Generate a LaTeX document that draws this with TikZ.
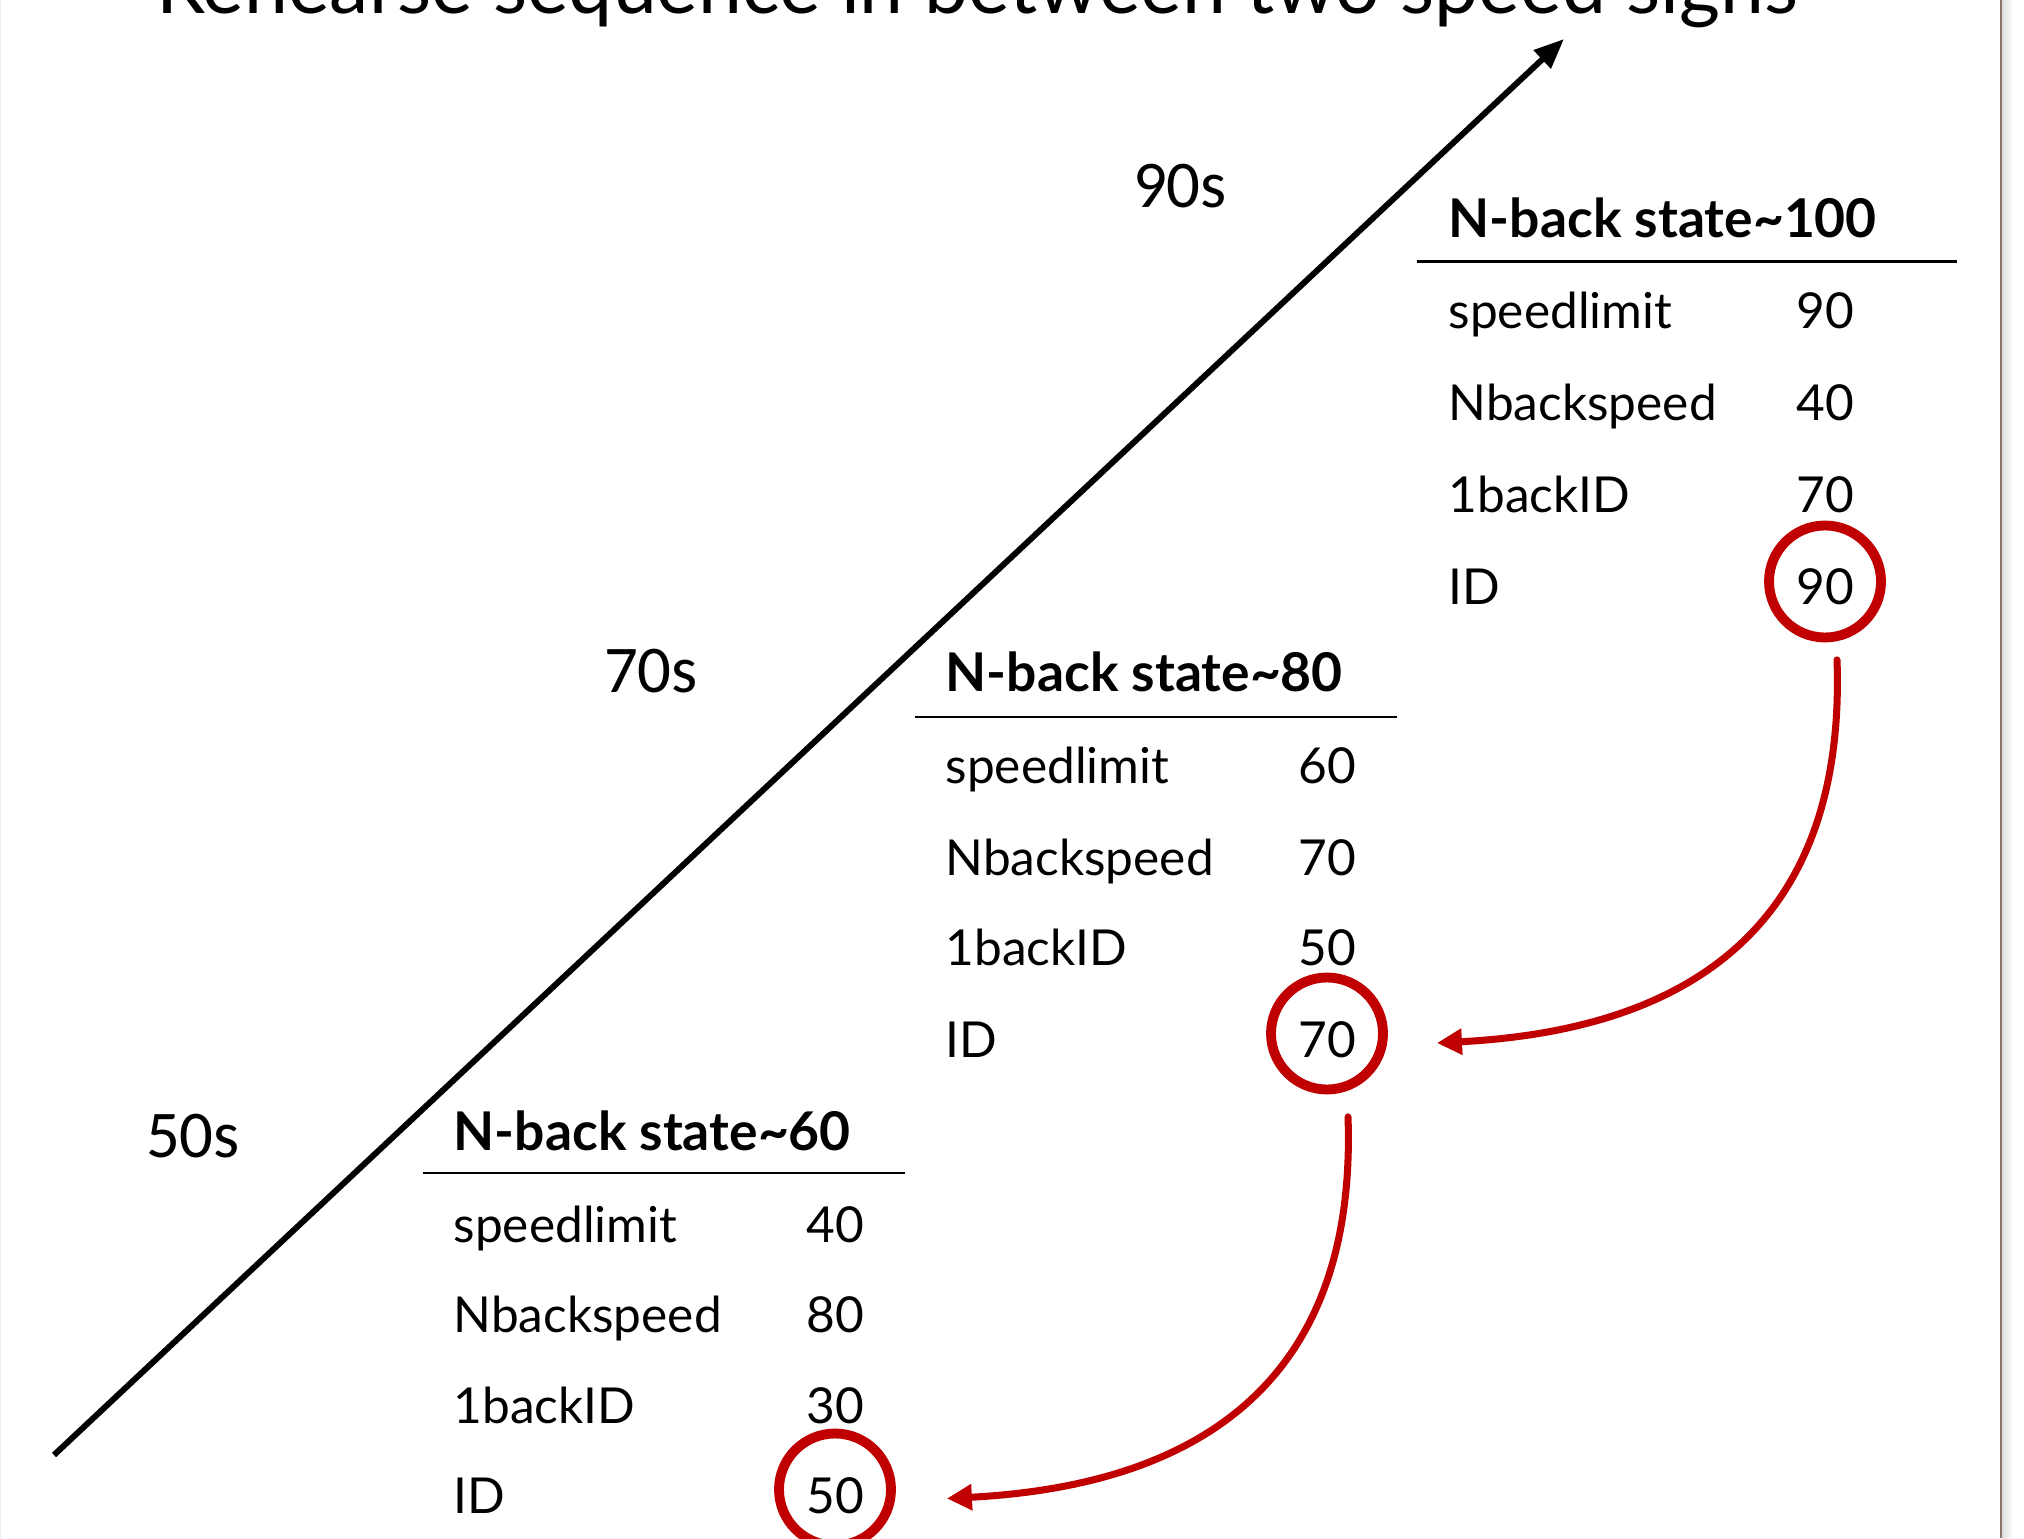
\documentclass[tikz,border=0pt]{standalone}
\usepackage{fontspec}
\setmainfont{Lato}
\newfontfamily\timefont{Carlito}
\usepackage{tikz}
\usetikzlibrary{arrows.meta,positioning,calc}
\usepackage{xcolor}
\definecolor{idred}{RGB}{192,0,0}
\definecolor{slideedge}{RGB}{140,115,105}

\begin{document}
\begin{tikzpicture}[
    hdr/.style={anchor=base west, font=\fontsize{15.2}{18}\selectfont\bfseries, inner sep=0pt},
    lbl/.style={anchor=base west, font=\fontsize{14.1}{17}\selectfont, inner sep=0pt},
    val/.style={anchor=base, font=\fontsize{14.1}{17}\selectfont, inner sep=0pt},
    idc/.style={val, circle, draw=idred, line width=2.8pt, minimum size=1.12cm,
        text height=0.47cm, text depth=0cm},
    tlbl/.style={font=\timefont\fontsize{19}{22}\selectfont, inner sep=0pt},
    rule/.style={line width=0.85pt},
    arr/.style={-{Triangle[length=0.3cm, width=0.24cm]}, line width=1.7pt},
    redarr/.style={-{Triangle[length=0.25cm, width=0.25cm]}, idred, line width=2pt, line cap=round}
]
    \useasboundingbox (0,0) rectangle (20.24,15.38);

    % slide title (cut off at the top)
    \node[font=\fontsize{22.4}{26}\selectfont, anchor=base] (title) at (9.77,15.24) {Rehearse sequence in between two speed signs};

    % slide edge
    \draw[gray!15, line width=0.4pt] (0.005,0) -- (0.005,15.38);
    \shade[left color=gray!25, right color=white] (20.02,0) rectangle (20.13,15.38);
    \draw[slideedge, line width=0.6pt] (20.01,0) -- (20.01,15.38);

    % time axis
    \coordinate (tstart) at (0.54,0.83);
    \coordinate (tend) at (15.64,14.99);
    \draw[arr] (tstart) -- (tend);

    \node[tlbl] (t50) at (1.93,4.02) {50s};
    \node[tlbl] (t70) at (6.51,8.67) {70s};
    \node[tlbl] (t90) at (11.80,13.52) {90s};

    % state ~60
    \node[hdr] (h60) at (4.53,3.88) {N-back state\textasciitilde60};
    \draw[rule] ([shift={(-0.30,-0.23)}]h60.base west) -- ++(4.82,0);
    \node[lbl] (sl60) at (4.53,2.96) {speedlimit};
    \node[lbl] (nb60) at (4.53,2.06) {Nbackspeed};
    \node[lbl] (ob60) at (4.53,1.15) {1backID};
    \node[lbl] (id60) at (4.53,0.25) {ID};
    \node[val] (vsl60) at (8.35,2.96) {40};
    \node[val] (vnb60) at (8.35,2.06) {80};
    \node[val] (vob60) at (8.35,1.15) {30};
    \node[idc] (vid60) at (8.35,0.25) {50};

    % state ~80
    \node[hdr] (h80) at (9.45,8.46) {N-back state\textasciitilde80};
    \draw[rule] ([shift={(-0.30,-0.25)}]h80.base west) -- ++(4.82,0);
    \node[lbl] (sl80) at (9.45,7.55) {speedlimit};
    \node[lbl] (nb80) at (9.45,6.63) {Nbackspeed};
    \node[lbl] (ob80) at (9.45,5.73) {1backID};
    \node[lbl] (id80) at (9.45,4.81) {ID};
    \node[val] (vsl80) at (13.27,7.55) {60};
    \node[val] (vnb80) at (13.27,6.63) {70};
    \node[val] (vob80) at (13.27,5.73) {50};
    \node[idc] (vid80) at (13.27,4.81) {70};

    % state ~100
    \node[hdr] (h100) at (14.48,13.00) {N-back state\textasciitilde100};
    \draw[rule] ([shift={(-0.31,-0.24)}]h100.base west) -- ++(5.40,0);
    \node[lbl] (sl100) at (14.48,12.09) {speedlimit};
    \node[lbl] (nb100) at (14.48,11.17) {Nbackspeed};
    \node[lbl] (ob100) at (14.48,10.25) {1backID};
    \node[lbl] (id100) at (14.48,9.33) {ID};
    \node[val] (vsl100) at (18.25,12.09) {90};
    \node[val] (vnb100) at (18.25,11.17) {40};
    \node[val] (vob100) at (18.25,10.25) {70};
    \node[idc] (vid100) at (18.25,9.33) {90};

    % ID passed back
    \draw[redarr] ([shift={(0.12,-0.175)}]vid100.south) to[out=-88, in=3, looseness=1.2] ([shift={(0.49,-0.095)}]vid80.east);
    \draw[redarr] ([shift={(0.21,-0.225)}]vid80.south) to[out=-88, in=3, looseness=1.2] ([shift={(0.51,-0.09)}]vid60.east);
\end{tikzpicture}
\end{document}
